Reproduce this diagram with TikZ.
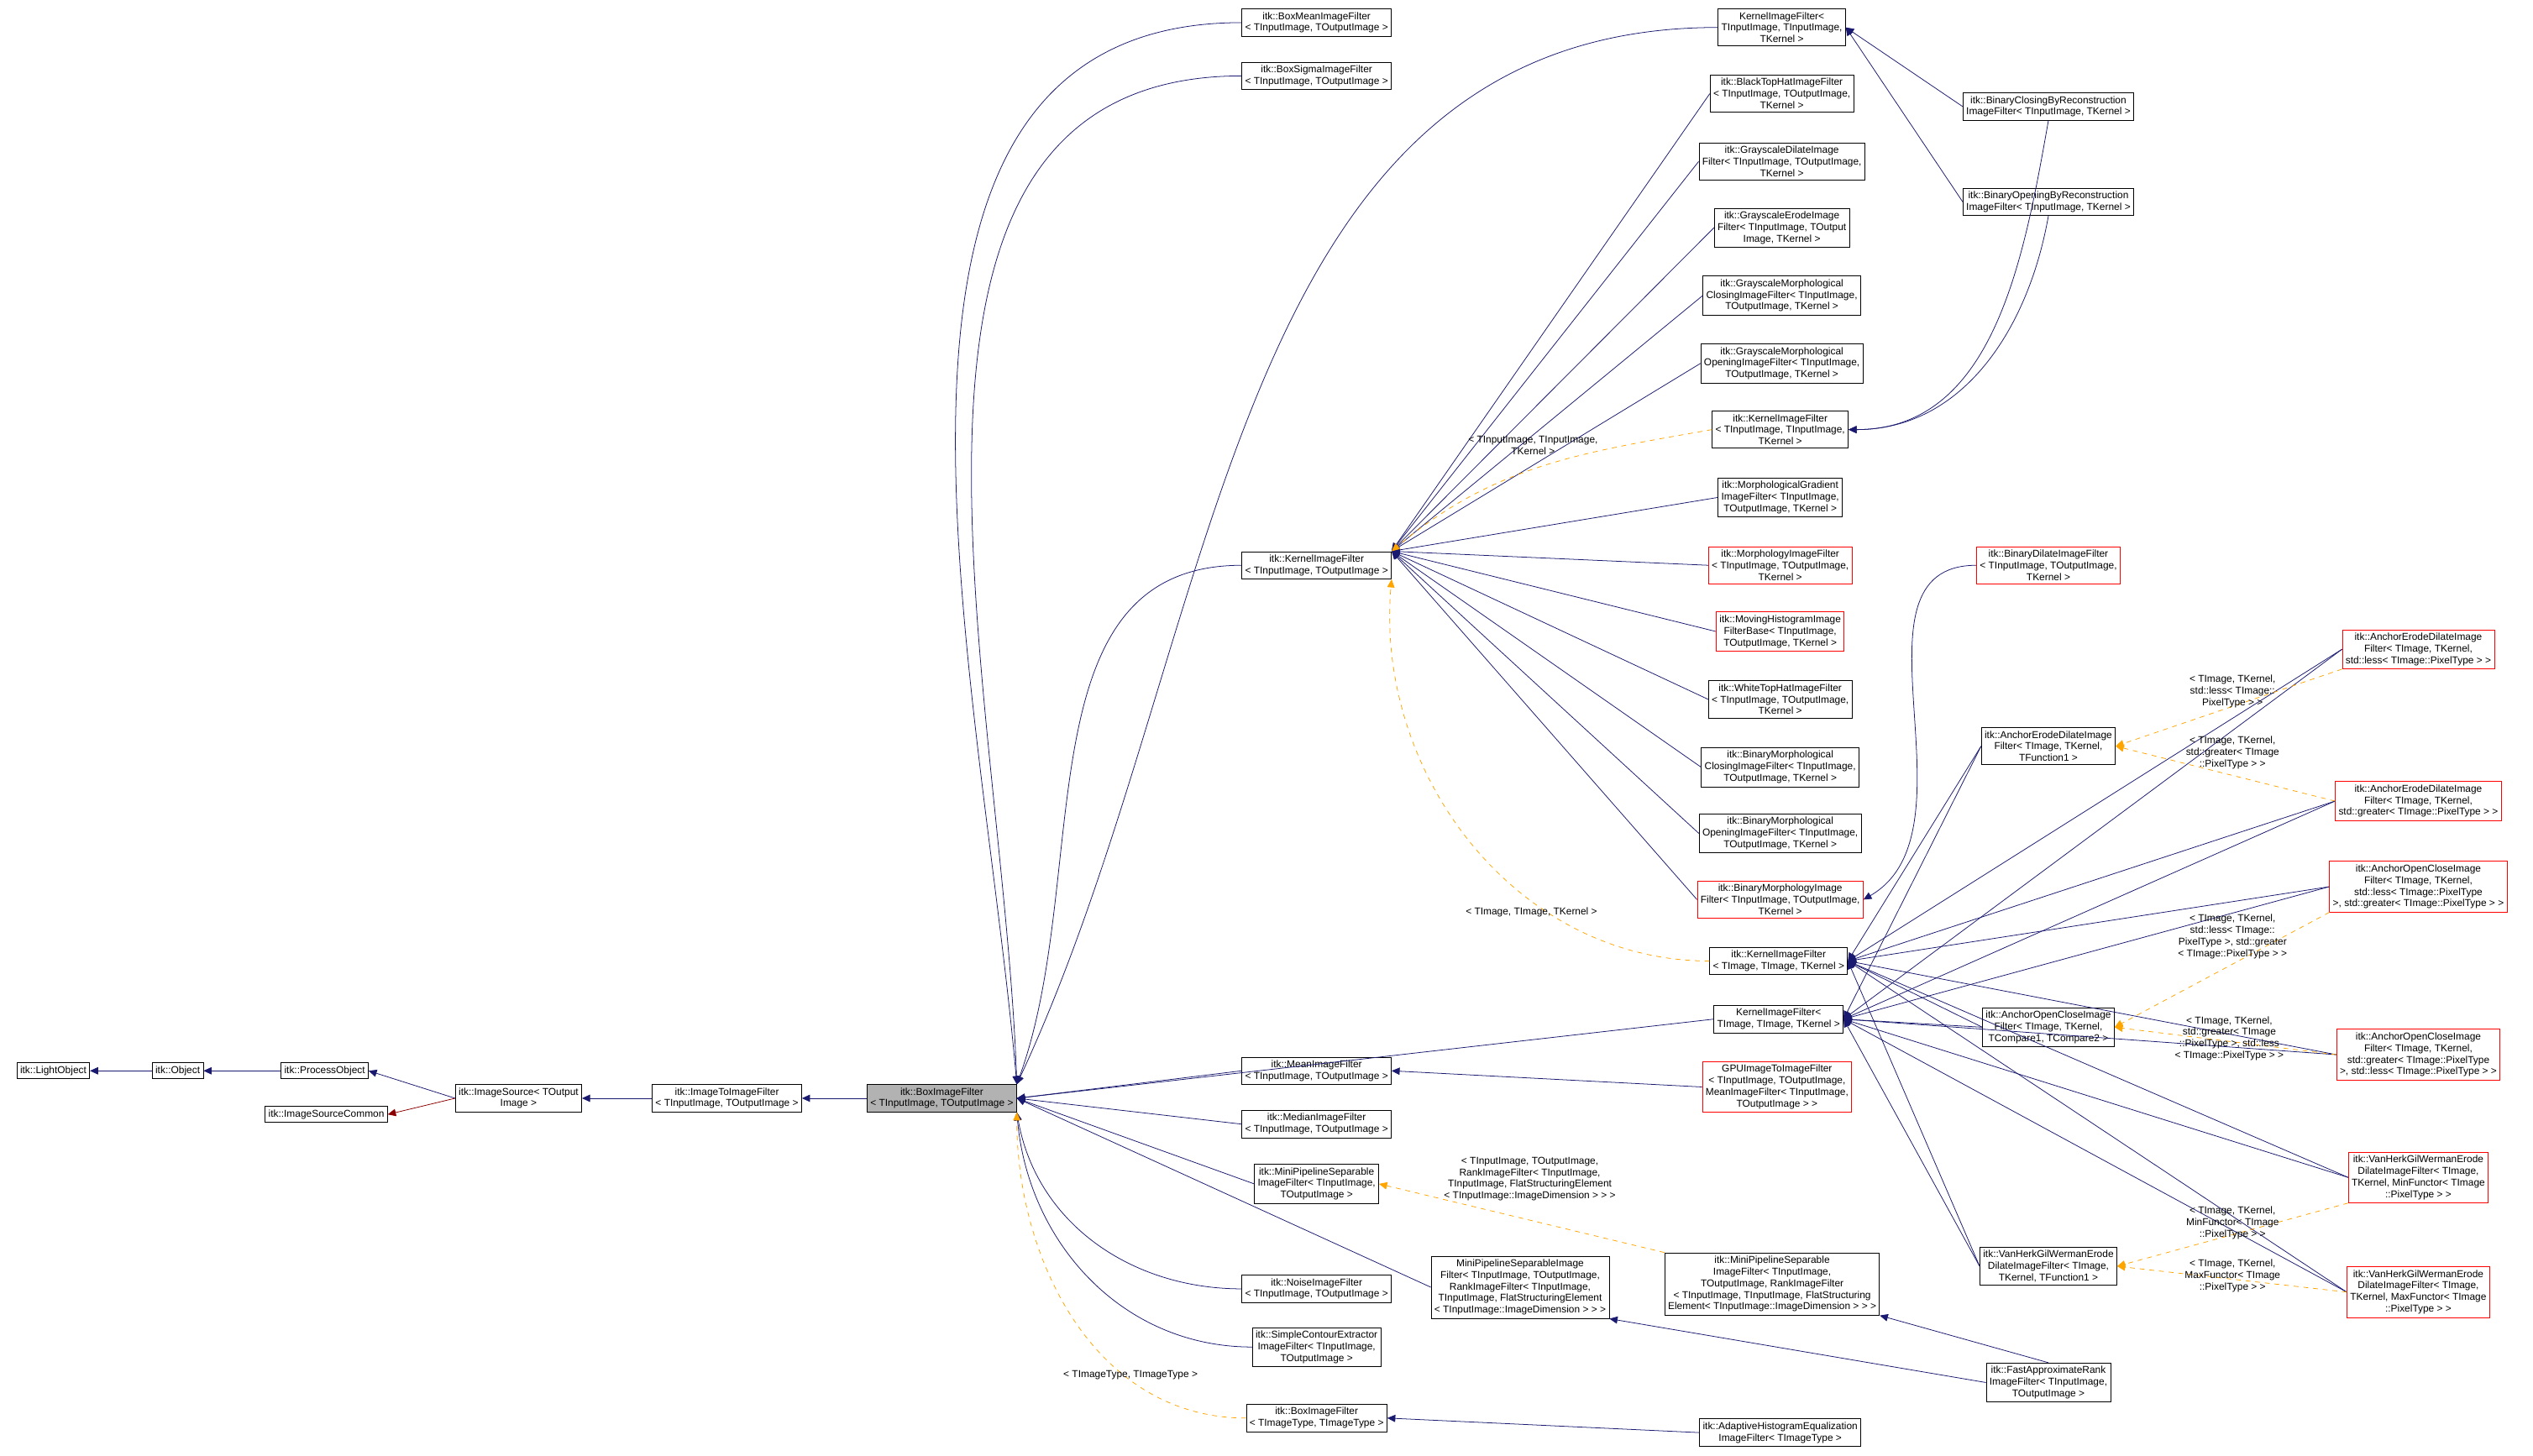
\documentclass[tikz,border=0pt]{standalone}
\usepackage{fontspec}
\setmainfont{Liberation Sans}
\usetikzlibrary{arrows.meta}
\definecolor{dxnavy}{RGB}{25,25,112}
\definecolor{dxorange}{RGB}{255,165,0}
\definecolor{dxred}{RGB}{139,0,0}
\begin{document}
\begin{tikzpicture}[x=1pt, y=-1pt,
  every node/.style={font=\fontsize{6.2}{7.2}\selectfont},
  cls/.style={draw, fill=white, align=center, inner sep=2pt},
  redcls/.style={cls, draw=red},
  curcls/.style={cls, fill=black!30},
  inh/.style={-{Triangle[length=5pt,width=4.5pt]}, dxnavy},
  tmpl/.style={inh, dxorange, dashed},
  tlabel/.style={align=center, inner sep=0pt}]
  \useasboundingbox (0,0) rectangle (1568,901);
  % left chain
  \node[cls] (light) at (33,663) {itk::LightObject};
  \node[cls] (obj) at (110,663) {itk::Object};
  \node[cls] (proc) at (201,663) {itk::ProcessObject};
  \node[cls] (srccommon) at (202,690) {itk::ImageSourceCommon};
  \node[cls] (src) at (321,680) {itk::ImageSource< TOutput\\Image >};
  \node[cls] (i2i) at (450,680) {itk::ImageToImageFilter\\< TInputImage, TOutputImage >};
  \node[curcls] (box) at (583,680) {itk::BoxImageFilter\\< TInputImage, TOutputImage >};
  % second column
  \node[cls] (boxmean) at (815,14) {itk::BoxMeanImageFilter\\< TInputImage, TOutputImage >};
  \node[cls] (boxsigma) at (815,47) {itk::BoxSigmaImageFilter\\< TInputImage, TOutputImage >};
  \node[cls] (kern) at (815,350) {itk::KernelImageFilter\\< TInputImage, TOutputImage >};
  \node[cls] (mean) at (815,663) {itk::MeanImageFilter\\< TInputImage, TOutputImage >};
  \node[cls] (median) at (815,696) {itk::MedianImageFilter\\< TInputImage, TOutputImage >};
  \node[cls] (minisep) at (815,733) {itk::MiniPipelineSeparable\\ImageFilter< TInputImage,\\TOutputImage >};
  \node[cls] (minisepinst) at (941,797) {MiniPipelineSeparableImage\\Filter< TInputImage, TOutputImage,\\RankImageFilter< TInputImage,\\TInputImage, FlatStructuringElement\\< TInputImage::ImageDimension > > >};
  \node[cls] (noise) at (815,798) {itk::NoiseImageFilter\\< TInputImage, TOutputImage >};
  \node[cls] (contour) at (815,834) {itk::SimpleContourExtractor\\ImageFilter< TInputImage,\\TOutputImage >};
  \node[cls] (boxtype) at (815,878) {itk::BoxImageFilter\\< TImageType, TImageType >};
  % third column
  \node[cls] (kernin) at (1103,17) {KernelImageFilter<\\ TInputImage, TInputImage,\\ TKernel >};
  \node[cls] (blacktop) at (1103,58) {itk::BlackTopHatImageFilter\\< TInputImage, TOutputImage,\\ TKernel >};
  \node[cls] (gdilate) at (1103,100) {itk::GrayscaleDilateImage\\Filter< TInputImage, TOutputImage,\\ TKernel >};
  \node[cls] (gerode) at (1103,141) {itk::GrayscaleErodeImage\\Filter< TInputImage, TOutput\\Image, TKernel >};
  \node[cls] (gclose) at (1103,183) {itk::GrayscaleMorphological\\ClosingImageFilter< TInputImage,\\TOutputImage, TKernel >};
  \node[cls] (gopen) at (1103,225) {itk::GrayscaleMorphological\\OpeningImageFilter< TInputImage,\\TOutputImage, TKernel >};
  \node[cls] (kerninitk) at (1102,266) {itk::KernelImageFilter\\< TInputImage, TInputImage,\\ TKernel >};
  \node[cls] (mgrad) at (1102,308) {itk::MorphologicalGradient\\ImageFilter< TInputImage,\\TOutputImage, TKernel >};
  \node[redcls] (morph) at (1102,350) {itk::MorphologyImageFilter\\< TInputImage, TOutputImage,\\ TKernel >};
  \node[redcls] (movhist) at (1102,391) {itk::MovingHistogramImage\\FilterBase< TInputImage,\\TOutputImage, TKernel >};
  \node[cls] (whitetop) at (1102,433) {itk::WhiteTopHatImageFilter\\< TInputImage, TOutputImage,\\ TKernel >};
  \node[cls] (bmclose) at (1102,475) {itk::BinaryMorphological\\ClosingImageFilter< TInputImage,\\TOutputImage, TKernel >};
  \node[cls] (bmopen) at (1102,516) {itk::BinaryMorphological\\OpeningImageFilter< TInputImage,\\TOutputImage, TKernel >};
  \node[redcls] (bmorph) at (1102,557) {itk::BinaryMorphologyImage\\Filter< TInputImage, TOutputImage,\\ TKernel >};
  \node[cls] (kernimgitk) at (1101,595) {itk::KernelImageFilter\\< TImage, TImage, TKernel >};
  \node[cls] (kernimg) at (1101,631) {KernelImageFilter<\\ TImage, TImage, TKernel >};
  \node[redcls] (gpu) at (1100,673) {GPUImageToImageFilter\\< TInputImage, TOutputImage,\\MeanImageFilter< TInputImage,\\TOutputImage > >};
  \node[cls] (minisepitk) at (1097,795) {itk::MiniPipelineSeparable\\ImageFilter< TInputImage,\\TOutputImage, RankImageFilter\\< TInputImage, TInputImage, FlatStructuring\\Element< TInputImage::ImageDimension > > >};
  \node[cls] (adaptive) at (1102,887) {itk::AdaptiveHistogramEqualization\\ImageFilter< TImageType >};
  % fourth column
  \node[cls] (bclose) at (1268,66) {itk::BinaryClosingByReconstruction\\ImageFilter< TInputImage, TKernel >};
  \node[cls] (bopen) at (1268,125) {itk::BinaryOpeningByReconstruction\\ImageFilter< TInputImage, TKernel >};
  \node[redcls] (bdilate) at (1268,350) {itk::BinaryDilateImageFilter\\< TInputImage, TOutputImage,\\ TKernel >};
  \node[cls] (anchored) at (1268,462) {itk::AnchorErodeDilateImage\\Filter< TImage, TKernel,\\ TFunction1 >};
  \node[cls] (anchoroc) at (1268,636) {itk::AnchorOpenCloseImage\\Filter< TImage, TKernel,\\ TCompare1, TCompare2 >};
  \node[cls] (vanherk) at (1268,784) {itk::VanHerkGilWermanErode\\DilateImageFilter< TImage,\\ TKernel, TFunction1 >};
  \node[cls] (fastrank) at (1268,856) {itk::FastApproximateRank\\ImageFilter< TInputImage,\\TOutputImage >};
  % fifth column
  \node[redcls] (anchoredless) at (1497,402) {itk::AnchorErodeDilateImage\\Filter< TImage, TKernel,\\ std::less< TImage::PixelType > >};
  \node[redcls] (anchoredgreater) at (1497,496) {itk::AnchorErodeDilateImage\\Filter< TImage, TKernel,\\ std::greater< TImage::PixelType > >};
  \node[redcls] (anchoroclg) at (1497,549) {itk::AnchorOpenCloseImage\\Filter< TImage, TKernel,\\ std::less< TImage::PixelType\\ >, std::greater< TImage::PixelType > >};
  \node[redcls] (anchorocgl) at (1497,653) {itk::AnchorOpenCloseImage\\Filter< TImage, TKernel,\\ std::greater< TImage::PixelType\\ >, std::less< TImage::PixelType > >};
  \node[redcls] (vanherkmin) at (1497,729) {itk::VanHerkGilWermanErode\\DilateImageFilter< TImage,\\ TKernel, MinFunctor< TImage\\::PixelType > >};
  \node[redcls] (vanherkmax) at (1497,800) {itk::VanHerkGilWermanErode\\DilateImageFilter< TImage,\\ TKernel, MaxFunctor< TImage\\::PixelType > >};

  % left chain edges
  \draw[inh] (obj) -- (light);
  \draw[inh] (proc) -- (obj);
  \draw[inh] (src.west) -- (proc.east);
  \draw[inh, dxred] (src.west) -- (srccommon.east);
  \draw[inh] (i2i) -- (src);
  \draw[inh] (box) -- (i2i);
  % children of box
  \foreach \c/\o in {boxmean/95, boxsigma/92, kern/70, kernin/65} {
    \draw[inh] (\c.west) to[out=180, in=\o] (box.north east);
  }
  \foreach \c in {mean, median, minisep, minisepinst, kernimg} {
    \draw[inh] (\c.west) -- (box.east);
  }
  \foreach \c/\o in {noise/-80, contour/-85} {
    \draw[inh] (\c.west) to[out=180, in=\o] (box.south east);
  }
  \draw[tmpl] (boxtype.west) to[out=180, in=-90] node[tlabel, pos=0.3, above, dxorange!0, text=black] {< TImageType, TImageType >} (box.south east);
  % children of kern
  \foreach \c in {blacktop, gdilate, gerode, gclose, gopen, mgrad, morph, movhist, whitetop, bmclose, bmopen, bmorph} {
    \draw[inh] (\c.west) -- (kern.north east);
  }
  \draw[tmpl] (kerninitk.west) to[out=190, in=40] (kern.north east);
  \node[tlabel] (lkernin) at (949,276) {< TInputImage, TInputImage,\\ TKernel >};
  \draw[tmpl] (kernimgitk.west) to[out=180, in=-95] (kern.south east);
  \node[tlabel] (lkernimg) at (948,565) {< TImage, TImage, TKernel >};
  % other second-column edges
  \draw[inh] (gpu.west) -- (mean.east);
  \draw[tmpl] (minisepitk.north west) -- (minisep.east);
  \node[tlabel] (lminisep) at (947,730) {< TInputImage, TOutputImage,\\ RankImageFilter< TInputImage,\\ TInputImage, FlatStructuringElement\\< TInputImage::ImageDimension > > >};
  \draw[inh] (fastrank.west) -- (minisepinst.south east);
  \draw[inh] (fastrank.north) -- (minisepitk.south east);
  \draw[inh] (adaptive.west) -- (boxtype.east);
  % reconstruction filters
  \foreach \c in {bclose, bopen} {
    \draw[inh] (\c.west) -- (kernin.east);
    \draw[inh] (\c.south) to[out=-100, in=0] (kerninitk.east);
  }
  \draw[inh] (bdilate.west) to[out=180, in=30] (bmorph.east);
  % children of the TImage kernel filters
  \foreach \c in {anchored, anchoroc, vanherk, anchoredless, anchoredgreater, anchoroclg, anchorocgl, vanherkmin, vanherkmax} {
    \draw[inh] (\c.west) -- (kernimgitk.east);
    \draw[inh] (\c.west) -- (kernimg.east);
  }
  % template instances
  \draw[tmpl] (anchoredless.south west) -- (anchored.east);
  \node[tlabel] (lless) at (1382,428) {< TImage, TKernel,\\ std::less< TImage::\\PixelType > >};
  \draw[tmpl] (anchoredgreater.west) -- (anchored.east);
  \node[tlabel] (lgreater) at (1382,466) {< TImage, TKernel,\\ std::greater< TImage\\::PixelType > >};
  \draw[tmpl] (anchoroclg.south west) -- (anchoroc.east);
  \node[tlabel] (llg) at (1382,580) {< TImage, TKernel,\\ std::less< TImage::\\PixelType >, std::greater\\< TImage::PixelType > >};
  \draw[tmpl] (anchorocgl.west) -- (anchoroc.east);
  \node[tlabel] (lgl) at (1380,643) {< TImage, TKernel,\\ std::greater< TImage\\::PixelType >, std::less\\< TImage::PixelType > >};
  \draw[tmpl] (vanherkmin.south west) -- (vanherk.east);
  \node[tlabel] (lmin) at (1382,757) {< TImage, TKernel,\\ MinFunctor< TImage\\::PixelType > >};
  \draw[tmpl] (vanherkmax.west) -- (vanherk.east);
  \node[tlabel] (lmax) at (1382,790) {< TImage, TKernel,\\ MaxFunctor< TImage\\::PixelType > >};
\end{tikzpicture}
\end{document}
